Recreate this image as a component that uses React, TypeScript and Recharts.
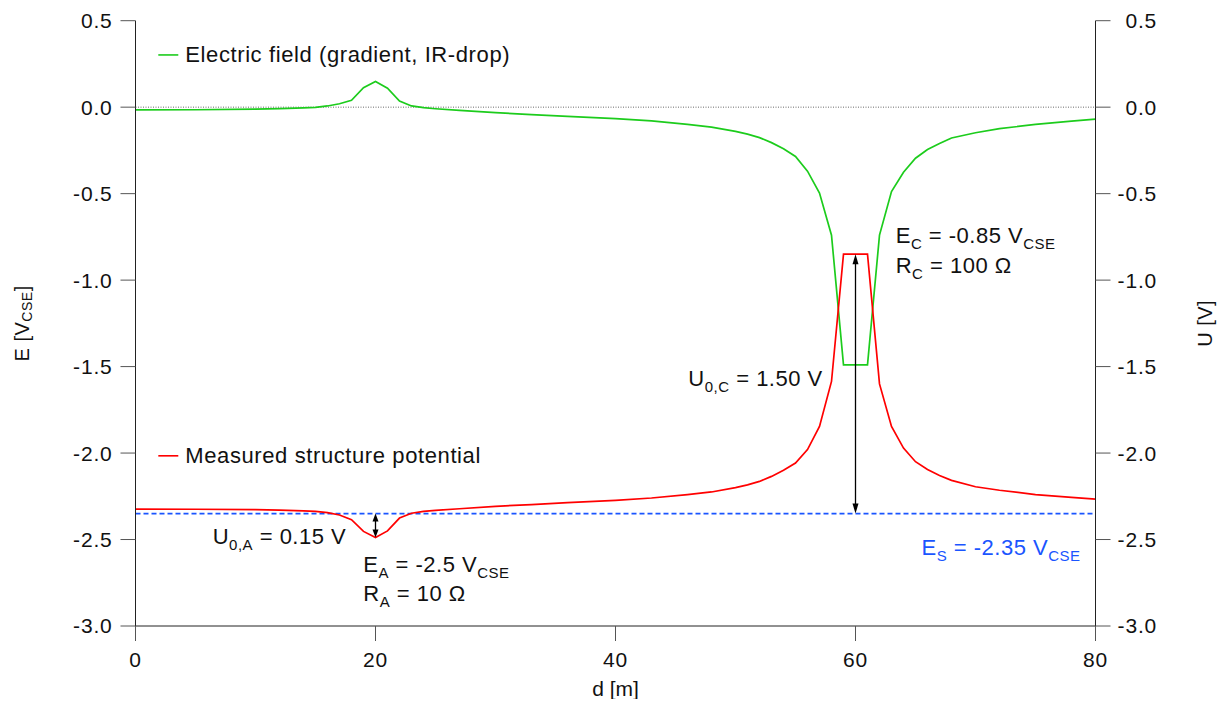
import React from "react";
import {
  LineChart, Line, XAxis, YAxis, ReferenceLine, ReferenceDot,
} from "recharts";

const FONT = '"Liberation Sans", Arial, sans-serif';
const INK = "#111111";
const GREEN = "#1ccc1c";
const RED = "#ff0000";
const BLUE = "#1a55ff";

// distance along the pipeline [m]
const dist = [0, 5, 10, 12, 14, 15, 16, 17, 18, 19, 20, 21, 22, 23, 24, 25, 27, 30, 33, 36, 40, 43, 46, 48, 50,
  51, 52, 53, 54, 55, 56, 57, 58, 59, 60, 61, 62, 63, 64, 65, 66, 67, 68, 70, 72, 75, 78, 80];
// electric field (gradient, IR-drop) [V]
const fieldU = [-0.016, -0.015, -0.011, -0.008, -0.004, -0.001, 0.007, 0.02, 0.04, 0.113, 0.148, 0.11, 0.035, 0.007,
  -0.003, -0.009, -0.018, -0.032, -0.043, -0.053, -0.066, -0.079, -0.099, -0.115, -0.14, -0.156, -0.176, -0.205,
  -0.24, -0.285, -0.37, -0.497, -0.74, -1.49, -1.49, -1.49, -0.74, -0.488, -0.376, -0.295, -0.245, -0.21, -0.178,
  -0.148, -0.124, -0.1, -0.081, -0.069];
// measured structure potential [V_CSE]
const potentialE = [-2.324, -2.325, -2.327, -2.33, -2.334, -2.337, -2.344, -2.358, -2.385, -2.453, -2.488, -2.45,
  -2.376, -2.348, -2.337, -2.331, -2.322, -2.308, -2.298, -2.287, -2.274, -2.26, -2.24, -2.225, -2.2, -2.184, -2.164,
  -2.135, -2.1, -2.058, -1.98, -1.846, -1.586, -0.85, -0.85, -0.85, -1.6, -1.846, -1.971, -2.05, -2.095, -2.13,
  -2.158, -2.195, -2.215, -2.24, -2.256, -2.266];

const xTicks = [0, 20, 40, 60, 80];
const yTicks = [0.5, 0, -0.5, -1, -1.5, -2, -2.5, -3];
const soilE = -2.35;

const legendKeys = [
  { name: "Electric field (gradient, IR-drop)", color: GREEN, d: 1.9, v: 0.302 },
  { name: "Measured structure potential", color: RED, d: 1.9, v: -2.016 },
];

// [text, isSubscript]
const notes = [
  { d: 6.43, v: -2.524, color: INK, parts: [["U", false], ["0,A", true], [" = 0.15 V", false]] },
  { d: 18.98, v: -2.69, color: INK, parts: [["E", false], ["A", true], [" = -2.5 V", false], ["CSE", true]] },
  { d: 18.98, v: -2.854, color: INK, parts: [["R", false], ["A", true], [" = 10 Ω", false]] },
  { d: 63.35, v: -0.787, color: INK, parts: [["E", false], ["C", true], [" = -0.85 V", false], ["CSE", true]] },
  { d: 63.35, v: -0.96, color: INK, parts: [["R", false], ["C", true], [" = 100 Ω", false]] },
  { d: 46.07, v: -1.611, color: INK, parts: [["U", false], ["0,C", true], [" = 1.50 V", false]] },
  { d: 65.5, v: -2.587, color: BLUE, parts: [["E", false], ["S", true], [" = -2.35 V", false], ["CSE", true]] },
];

const arrows = [
  { d: 60, from: -0.85, to: soilE },
  { d: 20, from: soilE, to: -2.488 },
];

const rows = dist.map((d, i) => ({ d, u: fieldU[i], e: potentialE[i] }));

function renderParts(parts: [string, boolean][]) {
  let shifted = false;
  return parts.map(([t, sub], i) => {
    let dy = 0;
    if (sub && !shifted) { dy = 6; shifted = true; }
    else if (!sub && shifted) { dy = -6; shifted = false; }
    return (
      <tspan key={i} dy={dy} fontSize={sub ? 15 : 22}>{t}</tspan>
    );
  });
}

const noteLabel = (n: typeof notes[number]) => (p: any) => {
  const vb = p.viewBox;
  const x = vb.x + vb.width / 2;
  const y = vb.y + vb.height / 2;
  return (
    <text x={x} y={y} fill={n.color} fontFamily={FONT} fontSize={22} letterSpacing={0.5}>
      {renderParts(n.parts as [string, boolean][])}
    </text>
  );
};

const legendLabel = (k: typeof legendKeys[number]) => (p: any) => {
  const vb = p.viewBox;
  const x = vb.x + vb.width / 2;
  const y = vb.y + vb.height / 2;
  return (
    <g>
      <line x1={x} y1={y} x2={x + 20} y2={y} stroke={k.color} strokeWidth={1.6} />
      <text x={x + 27} y={y + 7.5} fill={INK} fontFamily={FONT} fontSize={22} letterSpacing={0.6}>{k.name}</text>
    </g>
  );
};

const arrowShape = (p: any) => {
  const x = p.x1;
  const top = Math.min(p.y1, p.y2);
  const bot = Math.max(p.y1, p.y2);
  const h = Math.min(10, (bot - top) / 3);
  const w = 3;
  return (
    <g>
      <line x1={x} y1={top + h - 1} x2={x} y2={bot - h + 1} stroke="#000" strokeWidth={1.3} />
      <polygon points={`${x},${top} ${x - w},${top + h} ${x + w},${top + h}`} fill="#000" />
      <polygon points={`${x},${bot} ${x - w},${bot - h} ${x + w},${bot - h}`} fill="#000" />
    </g>
  );
};

const leftAxisLabel = (p: any) => {
  const vb = p.viewBox;
  const cx = vb.x + 14;
  const cy = vb.y + vb.height / 2;
  return (
    <text x={cx} y={cy} transform={`rotate(-90 ${cx} ${cy})`} textAnchor="middle" dominantBaseline="central"
      fill={INK} fontFamily={FONT} fontSize={20} letterSpacing={0.5}>
      E [V<tspan dy={5} fontSize={14}>CSE</tspan><tspan dy={-5}>]</tspan>
    </text>
  );
};

const rightAxisLabel = (p: any) => {
  const vb = p.viewBox;
  const cx = vb.x + 109.5;
  const cy = vb.y + vb.height / 2;
  return (
    <text x={cx} y={cy} transform={`rotate(-90 ${cx} ${cy})`} textAnchor="middle" dominantBaseline="central"
      fill={INK} fontFamily={FONT} fontSize={20} letterSpacing={0.5}>
      U [V]
    </text>
  );
};

const RightTick = (p: any) => (
  <text x={p.x + 38.5} y={p.y} dy="0.355em" textAnchor="end" fill={INK} fontFamily={FONT} fontSize={21}
    letterSpacing={0.8}>
    {Number(p.payload.value).toFixed(1)}
  </text>
);

const tickStyle = { fontSize: 21, fill: INK, fontFamily: FONT, letterSpacing: 0.8 };

export default function App() {
  return (
    <div style={{ width: 1211, height: 691 }}>
      <LineChart width={1211} height={691} data={rows}
        margin={{ top: 12.7, right: 0, bottom: 0, left: 0 }} style={{ fontFamily: FONT, overflow: "visible" }}>
        <XAxis dataKey="d" type="number" domain={[0, 80]} ticks={xTicks} interval={0}
          tickSize={15} tickMargin={11} height={73}
          axisLine={{ stroke: "#222" }} tickLine={{ stroke: "#555" }} tick={tickStyle}
          label={{ value: "d [m]", position: "insideBottom", offset: 3, fontSize: 21, fill: INK, fontFamily: FONT }} />
        <YAxis yAxisId="E" type="number" domain={[-3, 0.5]} ticks={yTicks} interval={0} width={127.5}
          tickSize={15} tickMargin={8} tickFormatter={(v) => Number(v).toFixed(1)}
          axisLine={{ stroke: "#222" }} tickLine={{ stroke: "#555" }} tick={tickStyle}
          label={leftAxisLabel} />
        <YAxis yAxisId="U" orientation="right" type="number" domain={[-3, 0.5]} ticks={yTicks} interval={0}
          width={123.5} tickSize={15} tickMargin={8}
          axisLine={{ stroke: "#222" }} tickLine={{ stroke: "#555" }} tick={<RightTick />}
          label={rightAxisLabel} />

        <ReferenceLine yAxisId="E" y={0} stroke="#444" strokeWidth={0.8} strokeDasharray="1 1.5" />
        <ReferenceLine yAxisId="E" y={soilE} stroke={BLUE} strokeWidth={1.7} strokeDasharray="5 3" />

        <Line yAxisId="U" dataKey="u" type="linear" stroke={GREEN} strokeWidth={1.7} dot={false}
          isAnimationActive={false} />
        <Line yAxisId="E" dataKey="e" type="linear" stroke={RED} strokeWidth={1.7} dot={false}
          isAnimationActive={false} />

        {arrows.map((a, i) => (
          <ReferenceLine key={`arr${i}`} yAxisId="E"
            segment={[{ x: a.d, y: a.from }, { x: a.d, y: a.to }]} shape={arrowShape} />
        ))}
        {legendKeys.map((k, i) => (
          <ReferenceDot key={`lg${i}`} yAxisId="E" x={k.d} y={k.v} r={1} fill="none" stroke="none"
            label={legendLabel(k)} />
        ))}
        {notes.map((n, i) => (
          <ReferenceDot key={`nt${i}`} yAxisId="E" x={n.d} y={n.v} r={1} fill="none" stroke="none"
            label={noteLabel(n)} />
        ))}
      </LineChart>
    </div>
  );
}
